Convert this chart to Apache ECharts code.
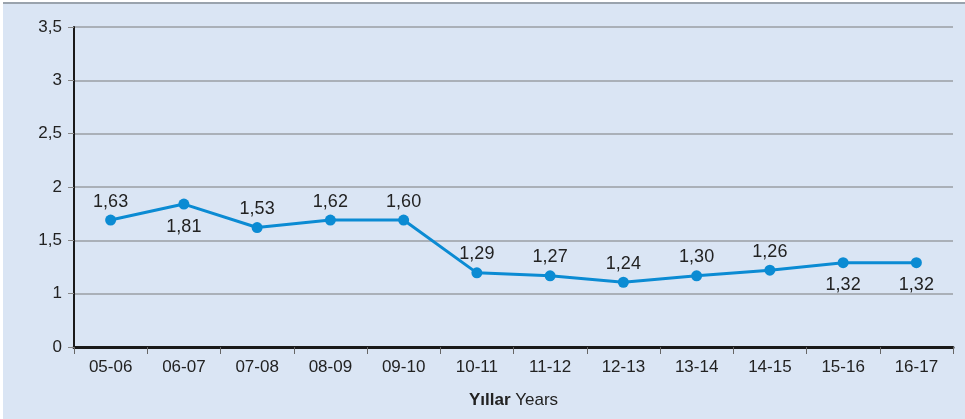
<!DOCTYPE html>
<html>
<head>
<meta charset="utf-8">
<script src="https://cdn.jsdelivr.net/npm/echarts@6/dist/echarts.min.js"></script>
<style>
  html, body { margin: 0; padding: 0; background: #ffffff; }
  #wrap { position: absolute; left: 3px; top: 2px; width: 962px; height: 417px;
          background: #dae5f4; border-top: 2px solid #9aa3ad; box-sizing: border-box; }
  #chart { width: 962px; height: 415px; }
</style>
</head>
<body>
<div id="wrap"><div id="chart"></div></div>
<script>
  // Yıllar / Years
  var years = ['05-06', '06-07', '07-08', '08-09', '09-10', '10-11', '11-12', '12-13', '13-14', '14-15', '15-16', '16-17']
  // plotted positions as drawn in the picture
  var plotted = [1.69, 1.84, 1.62, 1.69, 1.69, 1.195, 1.167, 1.107, 1.167, 1.22, 1.29, 1.29]
  // printed value labels
  var labelText = ['1,63', '1,81', '1,53', '1,62', '1,60', '1,29', '1,27', '1,24', '1,30', '1,26', '1,32', '1,32']
  var labelBelow = [false, true, false, false, false, false, false, false, false, false, true, true]
  // tick labels of the y axis (bottom tick reads 0)
  var yTicks = { '0.5': '0', '1': '1', '1.5': '1,5', '2': '2', '2.5': '2,5', '3': '3', '3.5': '3,5' }

  var font = "'Liberation Sans', Arial, sans-serif"

  var seriesData = plotted.map(function(v, i) {
    return {
      value: v,
      label: {
        position: labelBelow[i] ? 'bottom' : 'top',
        distance: labelBelow[i] ? 8 : 4,
        formatter: labelText[i]
      }
    }
  })

  var myChart = echarts.init(document.getElementById('chart'))
  var option = {
    animation: false,
    textStyle: { fontFamily: font },
    grid: { left: 71, right: 12, top: 23, bottom: 72 },
    xAxis: {
      type: 'category',
      data: years,
      boundaryGap: true,
      axisLine: { lineStyle: { color: '#1a1a1a', width: 3 } },
      axisTick: { show: true, length: 7, lineStyle: { color: '#666', width: 1 } },
      axisLabel: { color: '#222', fontSize: 17, fontFamily: font, margin: 12 },
      name: '{b|Yıllar} Years',
      nameLocation: 'middle',
      nameGap: 45,
      nameTextStyle: {
        color: '#222', fontSize: 17, fontFamily: font,
        rich: { b: { fontWeight: 'bold', fontSize: 17, color: '#222', fontFamily: font } }
      }
    },
    yAxis: {
      type: 'value',
      min: 0.5,
      max: 3.5,
      interval: 0.5,
      axisLine: { show: true, lineStyle: { color: '#1a1a1a', width: 2 } },
      axisTick: { show: true, length: 6, lineStyle: { color: '#888' } },
      splitLine: { show: true, lineStyle: { color: '#9a9ea4', width: 1.5 } },
      axisLabel: {
        color: '#222', fontSize: 17, fontFamily: font, margin: 12,
        formatter: function(v) { return yTicks[String(v)] || '' }
      }
    },
    series: [{
      type: 'line',
      data: seriesData,
      symbol: 'circle',
      symbolSize: 11,
      lineStyle: { color: '#0b8bd3', width: 3 },
      itemStyle: { color: '#0b8bd3' },
      label: { show: true, color: '#222', fontSize: 18, fontFamily: font }
    }]
  }
  myChart.setOption(option)
</script>
</body>
</html>
